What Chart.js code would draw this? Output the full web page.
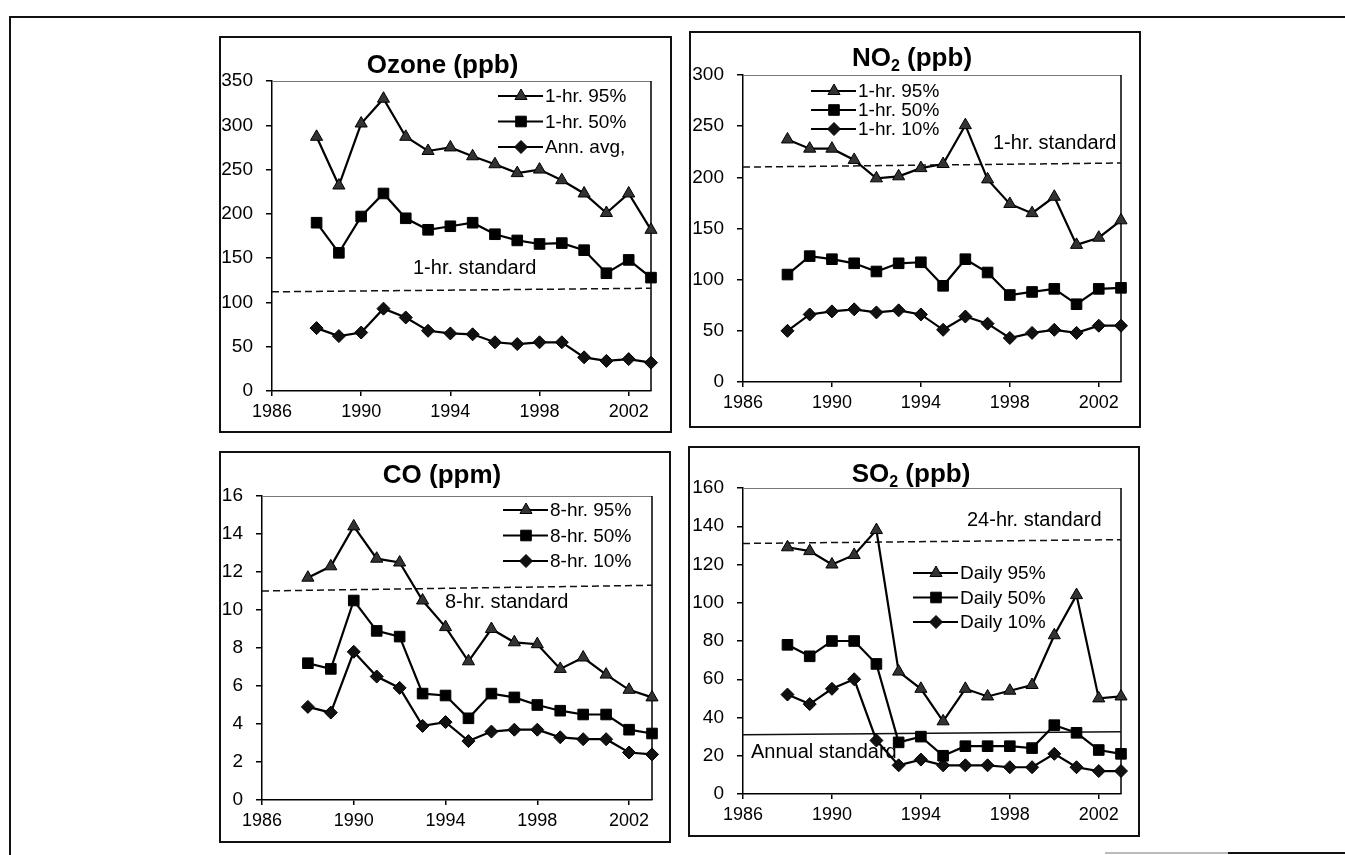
<!DOCTYPE html>
<html>
<head>
<meta charset="utf-8">
<title>Air quality trends</title>
<script src="https://cdn.jsdelivr.net/npm/chart.js@4.4.1/dist/chart.umd.min.js"></script>
<style>
    body { margin: 0; width: 1345px; height: 855px; overflow: hidden; position: relative; background: #fff; }
    .line { position: absolute; background: #111; }
    .panel { position: absolute; box-sizing: border-box; border: 2px solid #111; background: #fff; }
    .panel canvas { position: absolute; left: 0; top: 0; }
</style>
</head>
<body>
<div class="line" style="left:9px; top:16px; width:1336px; height:2px;"></div>
<div class="line" style="left:9px; top:16px; width:2px; height:839px;"></div>
<div class="line" style="left:1105px; top:852px; width:123px; height:2px; background:#bbb;"></div>
<div class="line" style="left:1228px; top:852px; width:117px; height:2px;"></div>

<div class="panel" id="ozoneBox"><canvas id="ozoneChart"></canvas></div>
<div class="panel" id="no2Box"><canvas id="no2Chart"></canvas></div>
<div class="panel" id="coBox"><canvas id="coChart"></canvas></div>
<div class="panel" id="so2Box"><canvas id="so2Chart"></canvas></div>

<script>
// shared x values
const years = [1988, 1989, 1990, 1991, 1992, 1993, 1994, 1995, 1996, 1997, 1998, 1999, 2000, 2001, 2002, 2003];
const xTicks = [1986, 1990, 1994, 1998, 2002];
const stdYears = [1986, 2003];

// Ozone (ppb)
const ozoneTicks = [0, 50, 100, 150, 200, 250, 300, 350];
const ozone95 = [287, 232, 302, 330, 287, 271, 275, 265, 256, 246, 250, 238, 223, 201, 223, 182];
const ozone50 = [190, 156, 197, 223, 195, 182, 186, 190, 177, 170, 166, 167, 159, 133, 148, 128];
const ozoneAvg = [71, 62, 66, 93, 83, 68, 65, 64, 55, 53, 55, 55, 38, 34, 36, 32];
const ozoneStd = [112, 116];

// NO2 (ppb)
const no2Ticks = [0, 50, 100, 150, 200, 250, 300];
const no2_95 = [237, 228, 228, 217, 199, 201, 209, 213, 251, 198, 174, 165, 181, 134, 141, 158];
const no2_50 = [105, 123, 120, 116, 108, 116, 117, 94, 120, 107, 85, 88, 91, 76, 91, 92];
const no2_10 = [50, 66, 69, 71, 68, 70, 66, 51, 64, 57, 43, 48, 51, 48, 55, 55];
const no2Std = [210, 214];

// CO (ppm)
const coTicks = [0, 2, 4, 6, 8, 10, 12, 14, 16];
const co95 = [11.7, 12.3, 14.4, 12.7, 12.5, 10.5, 9.1, 7.3, 9.0, 8.3, 8.2, 6.9, 7.5, 6.6, 5.8, 5.4];
const co50 = [7.2, 6.9, 10.5, 8.9, 8.6, 5.6, 5.5, 4.3, 5.6, 5.4, 5.0, 4.7, 4.5, 4.5, 3.7, 3.5];
const co10 = [4.9, 4.6, 7.8, 6.5, 5.9, 3.9, 4.1, 3.1, 3.6, 3.7, 3.7, 3.3, 3.2, 3.2, 2.5, 2.4];
const coStd = [11.0, 11.3];

// SO2 (ppb)
const so2Ticks = [0, 20, 40, 60, 80, 100, 120, 140, 160];
const so2_95 = [129, 127, 120, 125, 138, 64, 55, 38, 55, 51, 54, 57, 83, 104, 50, 51];
const so2_50 = [78, 72, 80, 80, 68, 27, 30, 20, 25, 25, 25, 24, 36, 32, 23, 21];
const so2_10 = [52, 47, 55, 60, 28, 15, 18, 15, 15, 15, 14, 14, 21, 14, 12, 12];
const so2Std24 = [131, 133];
const so2StdAnnual = [31, 32.5];

const FONT = '"Liberation Sans", Arial, Helvetica, sans-serif';
Chart.defaults.font.family = FONT;
Chart.defaults.color = '#000';

const shapes = {
    tri: { pointStyle: 'triangle', radius: 7, fill: '#333' },
    sq: { pointStyle: 'rect', radius: 7.5, fill: '#000' },
    dia: { pointStyle: 'rectRot', radius: 6.5, fill: '#111' }
};

function seriesSet(label, values, shape) {
    const s = shapes[shape];
    return {
        label: label,
        data: values.map((v, i) => ({ x: years[i], y: v })),
        borderColor: '#000',
        borderWidth: 2.2,
        pointStyle: s.pointStyle,
        pointRadius: s.radius,
        pointBackgroundColor: s.fill,
        pointBorderColor: '#000',
        pointBorderWidth: 1,
        tension: 0,
        clip: false,
        inLegend: true,
        shape: shape
    };
}

function stdSet(values, dashed) {
    return {
        label: 'standard',
        data: stdYears.map((x, i) => ({ x: x, y: values[i] })),
        borderColor: '#111',
        borderWidth: 1.5,
        borderDash: dashed ? [7, 4] : [],
        pointRadius: 0,
        clip: false,
        inLegend: false
    };
}

function drawMarker(ctx, shape, x, y) {
    const s = shapes[shape];
    const r = s.radius;
    ctx.beginPath();
    if (shape === 'tri') {
        ctx.moveTo(x, y - r);
        ctx.lineTo(x + r * 0.866, y + r / 2);
        ctx.lineTo(x - r * 0.866, y + r / 2);
        ctx.closePath();
    } else if (shape === 'sq') {
        const h = r * Math.SQRT1_2;
        ctx.rect(x - h, y - h, 2 * h, 2 * h);
    } else {
        ctx.moveTo(x, y - r);
        ctx.lineTo(x + r, y);
        ctx.lineTo(x, y + r);
        ctx.lineTo(x - r, y);
        ctx.closePath();
    }
    ctx.fillStyle = s.fill;
    ctx.fill();
    ctx.lineWidth = 1;
    ctx.strokeStyle = '#000';
    ctx.stroke();
}

// plot frame (right + top edge) and standard labels, under the lines
const framePlugin = {
    id: 'panelFrame',
    beforeDatasetsDraw(chart, args, opts) {
        const { ctx, chartArea: a } = chart;
        ctx.save();
        ctx.lineWidth = 1;
        ctx.strokeStyle = '#777';
        ctx.beginPath();
        ctx.moveTo(a.left, a.top + 0.5);
        ctx.lineTo(a.right, a.top + 0.5);
        ctx.stroke();
        ctx.lineWidth = 1.5;
        ctx.strokeStyle = '#000';
        ctx.beginPath();
        ctx.moveTo(a.right, a.top);
        ctx.lineTo(a.right, a.bottom);
        ctx.stroke();

        ctx.fillStyle = '#000';
        ctx.font = '20px ' + FONT;
        ctx.textBaseline = 'middle';
        ctx.textAlign = 'left';
        (opts.notes || []).forEach(n => {
            ctx.fillText(n.text, a.left + n.dx, a.top + n.dy);
        });
        ctx.restore();
    }
};

const legendPlugin = {
    id: 'panelLegend',
    afterDatasetsDraw(chart, args, opts) {
        const { ctx, chartArea: a } = chart;
        ctx.save();
        ctx.font = '19px ' + FONT;
        ctx.textBaseline = 'middle';
        ctx.textAlign = 'left';
        let row = 0;
        chart.data.datasets.forEach(ds => {
            if (!ds.inLegend) return;
            const x0 = a.left + opts.dx;
            const y = a.top + opts.dy + row * opts.gap;
            ctx.strokeStyle = '#000';
            ctx.lineWidth = 2.2;
            ctx.beginPath();
            ctx.moveTo(x0, y);
            ctx.lineTo(x0 + 45, y);
            ctx.stroke();
            drawMarker(ctx, ds.shape, x0 + 23, y);
            ctx.fillStyle = '#000';
            ctx.fillText(ds.label, x0 + 47, y + 1);
            row++;
        });
        ctx.restore();
    }
};

const titlePlugin = {
    id: 'panelTitle',
    afterDraw(chart, args, opts) {
        const ctx = chart.ctx;
        const big = 'bold 26px ' + FONT;
        const small = 'bold 16px ' + FONT;
        ctx.save();
        let total = 0;
        opts.parts.forEach(p => {
            ctx.font = p.sub ? small : big;
            total += ctx.measureText(p.text).width;
        });
        let x = chart.width / 2 - total / 2 + opts.dx;
        ctx.fillStyle = '#000';
        ctx.textBaseline = 'alphabetic';
        ctx.textAlign = 'left';
        opts.parts.forEach(p => {
            ctx.font = p.sub ? small : big;
            ctx.fillText(p.text, x, opts.y + (p.sub ? 5 : 0));
            x += ctx.measureText(p.text).width;
        });
        ctx.restore();
    }
};

function makePanel(p) {
    const box = document.getElementById(p.id + 'Box');
    box.style.left = p.box.l + 'px';
    box.style.top = p.box.t + 'px';
    box.style.width = (p.box.r - p.box.l) + 'px';
    box.style.height = (p.box.b - p.box.t) + 'px';

    const border = 2;
    const cx = p.box.l + border, cy = p.box.t + border;
    const canvas = document.getElementById(p.id + 'Chart');
    canvas.width = p.box.r - p.box.l - 2 * border;
    canvas.height = p.box.b - p.box.t - 2 * border;

    const yWidth = p.plot.l - cx;
    const xHeight = (p.box.b - border) - p.plot.b;

    const axisGrid = len => ({
        drawOnChartArea: false,
        drawTicks: true,
        tickLength: len,
        color: '#000',
        lineWidth: 1.5
    });

    new Chart(canvas, {
        type: 'line',
        data: { datasets: p.datasets },
        plugins: [framePlugin, legendPlugin, titlePlugin],
        options: {
            responsive: false,
            animation: false,
            events: [],
            layout: {
                padding: { top: p.plot.t - cy, right: (p.box.r - border) - p.plot.r, left: 0, bottom: 0 }
            },
            plugins: {
                legend: { display: false },
                tooltip: { enabled: false },
                panelTitle: { parts: p.title, y: p.titleY, dx: -3 },
                panelLegend: p.legend,
                panelFrame: { notes: p.notes }
            },
            scales: {
                x: {
                    type: 'linear',
                    min: 1986,
                    max: 2003,
                    afterBuildTicks: axis => { axis.ticks = xTicks.map(v => ({ value: v })); },
                    afterFit: axis => { axis.height = xHeight; },
                    grid: axisGrid(5),
                    border: { color: '#000', width: 1.5 },
                    ticks: {
                        font: { size: 18 },
                        color: '#000',
                        padding: 5,
                        maxRotation: 0,
                        autoSkip: false,
                        callback: v => String(v)
                    }
                },
                y: {
                    min: 0,
                    max: p.yTicks[p.yTicks.length - 1],
                    afterBuildTicks: axis => { axis.ticks = p.yTicks.map(v => ({ value: v })); },
                    afterFit: axis => { axis.width = yWidth; },
                    grid: axisGrid(6),
                    border: { color: '#000', width: 1.5 },
                    ticks: {
                        font: { size: 19 },
                        color: '#000',
                        padding: 13,
                        autoSkip: false,
                        callback: v => String(v)
                    }
                }
            }
        }
    });
}

const panels = [
    {
        id: 'ozone',
        title: [{ text: 'Ozone (ppb)' }],
        titleY: 35,
        box: { l: 219, t: 36, r: 672, b: 433 },
        plot: { l: 272, t: 81, r: 651, b: 391 },
        yTicks: ozoneTicks,
        datasets: [
            seriesSet('1-hr. 95%', ozone95, 'tri'),
            seriesSet('1-hr. 50%', ozone50, 'sq'),
            seriesSet('Ann. avg,', ozoneAvg, 'dia'),
            stdSet(ozoneStd, true)
        ],
        legend: { dx: 226, dy: 15, gap: 25.5 },
        notes: [{ text: '1-hr. standard', dx: 141, dy: 187 }]
    },
    {
        id: 'no2',
        title: [{ text: 'NO' }, { text: '2', sub: true }, { text: ' (ppb)' }],
        titleY: 33,
        box: { l: 689, t: 31, r: 1141, b: 428 },
        plot: { l: 743, t: 75, r: 1121, b: 382 },
        yTicks: no2Ticks,
        datasets: [
            seriesSet('1-hr. 95%', no2_95, 'tri'),
            seriesSet('1-hr. 50%', no2_50, 'sq'),
            seriesSet('1-hr. 10%', no2_10, 'dia'),
            stdSet(no2Std, true)
        ],
        legend: { dx: 68, dy: 16, gap: 19 },
        notes: [{ text: '1-hr. standard', dx: 250, dy: 68 }]
    },
    {
        id: 'co',
        title: [{ text: 'CO (ppm)' }],
        titleY: 30,
        box: { l: 219, t: 451, r: 671, b: 843 },
        plot: { l: 262, t: 496, r: 652, b: 800 },
        yTicks: coTicks,
        datasets: [
            seriesSet('8-hr. 95%', co95, 'tri'),
            seriesSet('8-hr. 50%', co50, 'sq'),
            seriesSet('8-hr. 10%', co10, 'dia'),
            stdSet(coStd, true)
        ],
        legend: { dx: 241, dy: 14, gap: 25.5 },
        notes: [{ text: '8-hr. standard', dx: 183, dy: 106 }]
    },
    {
        id: 'so2',
        title: [{ text: 'SO' }, { text: '2', sub: true }, { text: ' (ppb)' }],
        titleY: 34,
        box: { l: 688, t: 446, r: 1140, b: 837 },
        plot: { l: 743, t: 488, r: 1121, b: 794 },
        yTicks: so2Ticks,
        datasets: [
            seriesSet('Daily 95%', so2_95, 'tri'),
            seriesSet('Daily 50%', so2_50, 'sq'),
            seriesSet('Daily 10%', so2_10, 'dia'),
            stdSet(so2Std24, true),
            stdSet(so2StdAnnual, false)
        ],
        legend: { dx: 170, dy: 85, gap: 24.5 },
        notes: [
            { text: '24-hr. standard', dx: 224, dy: 32 },
            { text: 'Annual standard', dx: 8, dy: 264 }
        ]
    }
];

panels.forEach(makePanel);
</script>
</body>
</html>
